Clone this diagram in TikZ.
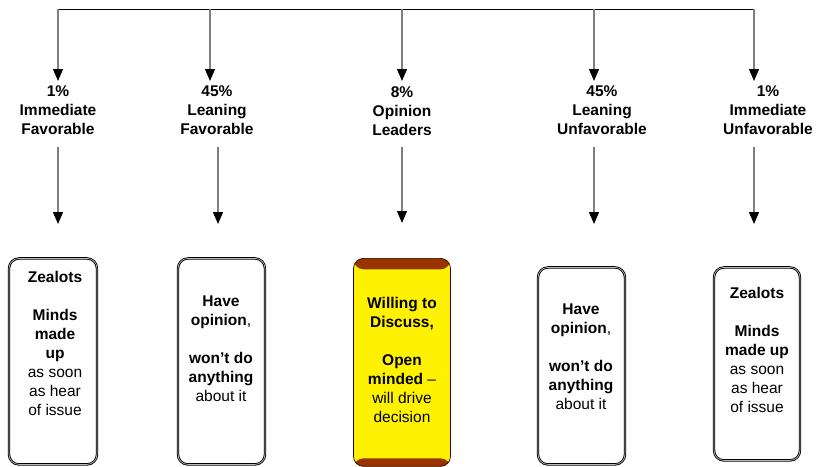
\documentclass[tikz,border=0pt]{standalone}
\usepackage{fontspec}
\setmainfont{Liberation Sans}
\usetikzlibrary{arrows.meta}

\definecolor{brick}{HTML}{993300}
\definecolor{stem}{HTML}{808080}

\begin{document}
\begin{tikzpicture}[x=1pt, y=-1pt,
    feed/.style={draw=stem, line width=1.3pt, -{Triangle[width=10pt,length=12pt,color=black]}},
    pct/.style={font=\bfseries\fontsize{15.5}{19}\selectfont, align=center, inner sep=0pt, anchor=north},
    card/.style={draw=black, double=gray!55, double distance=0.7pt, line width=0.85pt,
                 rounded corners=10pt, inner sep=0pt, anchor=north},
    blurb/.style={font=\fontsize{15.5}{19}\selectfont, align=center, inner sep=0pt, anchor=north}]
    \useasboundingbox (0,0) rectangle (819,466);

    % Bus {b1 .. b5} and second row {d1 .. d5}
    \coordinate (b1) at (58,9);
    \coordinate (b2) at (210,9);
    \coordinate (b3) at (402,9);
    \coordinate (b4) at (594,9);
    \coordinate (b5) at (754,9);
    \coordinate (d1) at (58,0);
    \coordinate (d2) at (218,0);
    \coordinate (d3) at (402,0);
    \coordinate (d4) at (594,0);
    \coordinate (d5) at (754,0);

    % Nodes {lab1 .. lab5}
    \node [pct]  (lab1)  at (58,86)   {1\%\\Immediate\\Favorable};
    \node [pct]  (lab2)  at (217,86)  {45\%\\Leaning\\Favorable};
    \node [pct]  (lab3)  at (402,86)  {8\%\\Opinion\\Leaders};
    \node [pct]  (lab4)  at (602,86)  {45\%\\Leaning\\Unfavorable};
    \node [pct]  (lab5)  at (768,86)  {1\%\\Immediate\\Unfavorable};

    % Nodes {box1 .. box5}
    \node [card, minimum width=88pt, minimum height=206pt]  (box1)  at (53,258)    {};
    \node [card, minimum width=87pt, minimum height=206pt]  (box2)  at (221.5,258) {};
    \node [draw=black!80!red, line width=0.7pt, rounded corners=10pt, inner sep=0pt, anchor=north,
           fill=yellow, minimum width=97pt, minimum height=208pt,
           path picture={
             \fill[brick] (path picture bounding box.north west) rectangle ([yshift=-11pt]path picture bounding box.north east);
             \fill[brick] (path picture bounding box.south west) rectangle ([yshift=8pt]path picture bounding box.south east);
           }]                                                (box3)  at (402,258)   {};
    \node [card, minimum width=87pt, minimum height=197pt]  (box4)  at (581.5,267) {};
    \node [card, minimum width=86pt, minimum height=193pt]  (box5)  at (757,267)   {};

    % Texts {txt1 .. txt5}
    \node [blurb]  (txt1)  at (55,271)  {\textbf{Zealots}\\[19pt]\textbf{Minds}\\\textbf{made}\\\textbf{up}\\as soon\\as hear\\of issue};
    \node [blurb]  (txt2)  at (221,296) {\textbf{Have}\\\textbf{opinion},\\[19pt]\textbf{won’t do}\\\textbf{anything}\\about it};
    \node [blurb]  (txt3)  at (402,297) {\textbf{Willing to}\\\textbf{Discuss,}\\[19pt]\textbf{Open}\\\textbf{minded} –\\will drive\\decision};
    \node [blurb]  (txt4)  at (581,304) {\textbf{Have}\\\textbf{opinion},\\[19pt]\textbf{won’t do}\\\textbf{anything}\\about it};
    \node [blurb]  (txt5)  at (757,287) {\textbf{Zealots}\\[19pt]\textbf{Minds}\\\textbf{made up}\\as soon\\as hear\\of issue};

    % Paths
    \draw [black, line width=0.9pt] (b1) -- (b5);
    \draw [feed, shorten >=5pt]  (b1) -- (b1 |- lab1.north);
    \draw [feed, shorten >=5pt]  (b2) -- (b2 |- lab2.north);
    \draw [feed, shorten >=5pt]  (b3) -- (b3 |- lab3.north);
    \draw [feed, shorten >=5pt]  (b4) -- (b4 |- lab4.north);
    \draw [feed, shorten >=5pt]  (b5) -- (b5 |- lab5.north);

    \draw [feed, shorten <=12pt, shorten >=34pt]  (lab1.south -| d1) -- (box1.north -| d1);
    \draw [feed, shorten <=12pt, shorten >=34pt]  (lab2.south -| d2) -- (box2.north -| d2);
    \draw [feed, shorten <=12pt, shorten >=35pt]  (lab3.south -| d3) -- (box3.north -| d3);
    \draw [feed, shorten <=12pt, shorten >=43pt]  (lab4.south -| d4) -- (box4.north -| d4);
    \draw [feed, shorten <=12pt, shorten >=43pt]  (lab5.south -| d5) -- (box5.north -| d5);
\end{tikzpicture}
\end{document}
